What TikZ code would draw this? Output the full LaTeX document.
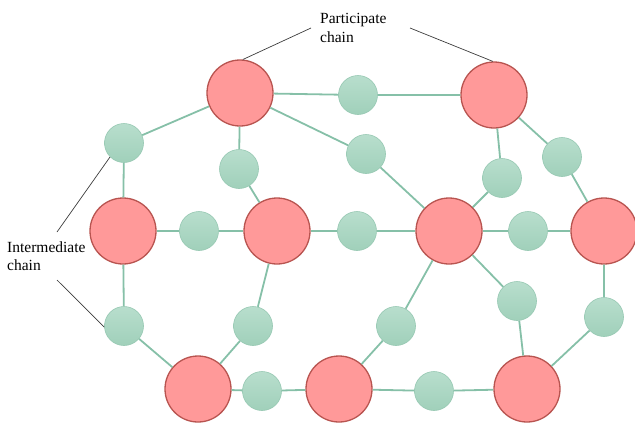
\documentclass[tikz,border=0pt]{standalone}
\usepackage{fontspec}
\setmainfont{Liberation Serif}
\definecolor{redfill}{RGB}{255,153,153}
\definecolor{redline}{RGB}{184,84,80}
\definecolor{greentop}{RGB}{184,222,205}
\definecolor{greenbot}{RGB}{160,208,186}
\definecolor{greenline}{RGB}{150,200,178}
\definecolor{linkcol}{RGB}{134,192,168}
\definecolor{labline}{RGB}{60,60,60}
\tikzset{
  bignode/.style={circle, inner sep=0pt, minimum size=66bp, fill=redfill, draw=redline, line width=1.3bp},
  smallnode/.style={circle, inner sep=0pt, minimum size=39bp, top color=greentop, bottom color=greenbot, draw=greenline, line width=0.6bp},
  link/.style={draw=linkcol, line width=1.8bp},
  labelline/.style={draw=labline, line width=0.7bp},
  labeltext/.style={inner sep=0pt, anchor=north west, align=left, font=\fontsize{15.5bp}{18.5bp}\selectfont}
}
\begin{document}
\begin{tikzpicture}[x=1bp, y=-1bp]
\useasboundingbox (0,0) rectangle (635,424);
% big nodes
\node[bignode] (R1) at (240,93) {};
\node[bignode] (R2) at (494,95) {};
\node[bignode] (R3) at (123,231) {};
\node[bignode] (R4) at (277,231) {};
\node[bignode] (R5) at (449,231) {};
\node[bignode] (R6) at (604,231) {};
\node[bignode] (R7) at (198,389) {};
\node[bignode] (R8) at (339,389) {};
\node[bignode] (R9) at (527,389) {};
% small nodes
\node[smallnode] (G1) at (124,143) {};
\node[smallnode] (G2) at (358,95) {};
\node[smallnode] (G3) at (239,169) {};
\node[smallnode] (G4) at (366,154) {};
\node[smallnode] (G5) at (502,178) {};
\node[smallnode] (G6) at (562,157) {};
\node[smallnode] (G7) at (199,231) {};
\node[smallnode] (G8) at (357,231) {};
\node[smallnode] (G9) at (528,231) {};
\node[smallnode] (G10) at (517,301) {};
\node[smallnode] (G11) at (604,317) {};
\node[smallnode] (G12) at (396,326) {};
\node[smallnode] (G13) at (124,326) {};
\node[smallnode] (G14) at (253,326) {};
\node[smallnode] (G15) at (262,391) {};
\node[smallnode] (G16) at (434,391) {};
% links
\path[link] (R1) -- (G2) (G2) -- (R2);
\path[link] (R1) -- (G1) (G1) -- (R3);
\path[link] (R1) -- (G3) (G3) -- (R4);
\path[link] (R1) -- (G4) (G4) -- (R5);
\path[link] (R2) -- (G5) (G5) -- (R5);
\path[link] (R2) -- (G6) (G6) -- (R6);
\path[link] (R3) -- (G7) (G7) -- (R4);
\path[link] (R4) -- (G8) (G8) -- (R5);
\path[link] (R5) -- (G9) (G9) -- (R6);
\path[link] (R5) -- (G10) (G10) -- (R9);
\path[link] (R5) -- (G12) (G12) -- (R8);
\path[link] (R6) -- (G11) (G11) -- (R9);
\path[link] (R3) -- (G13) (G13) -- (R7);
\path[link] (R4) -- (G14) (G14) -- (R7);
\path[link] (R7) -- (G15) (G15) -- (R8);
\path[link] (R8) -- (G16) (G16) -- (R9);
% labels
\node[labeltext] (PC) at (320,13.5) {Participate\\chain};
\node[labeltext] (IC) at (7,241.3) {Intermediate\\chain};
\coordinate (PL) at (311,28);
\coordinate (PR) at (410,28);
\coordinate (IT) at (57,232);
\coordinate (IB) at (57,280);
\path[labelline] (PL) -- (R1.85);
\path[labelline] (PR) -- (R2.92);
\path[labelline] (IT) -- (G1.225);
\path[labelline] (IB) -- (G13.183);
\end{tikzpicture}
\end{document}
